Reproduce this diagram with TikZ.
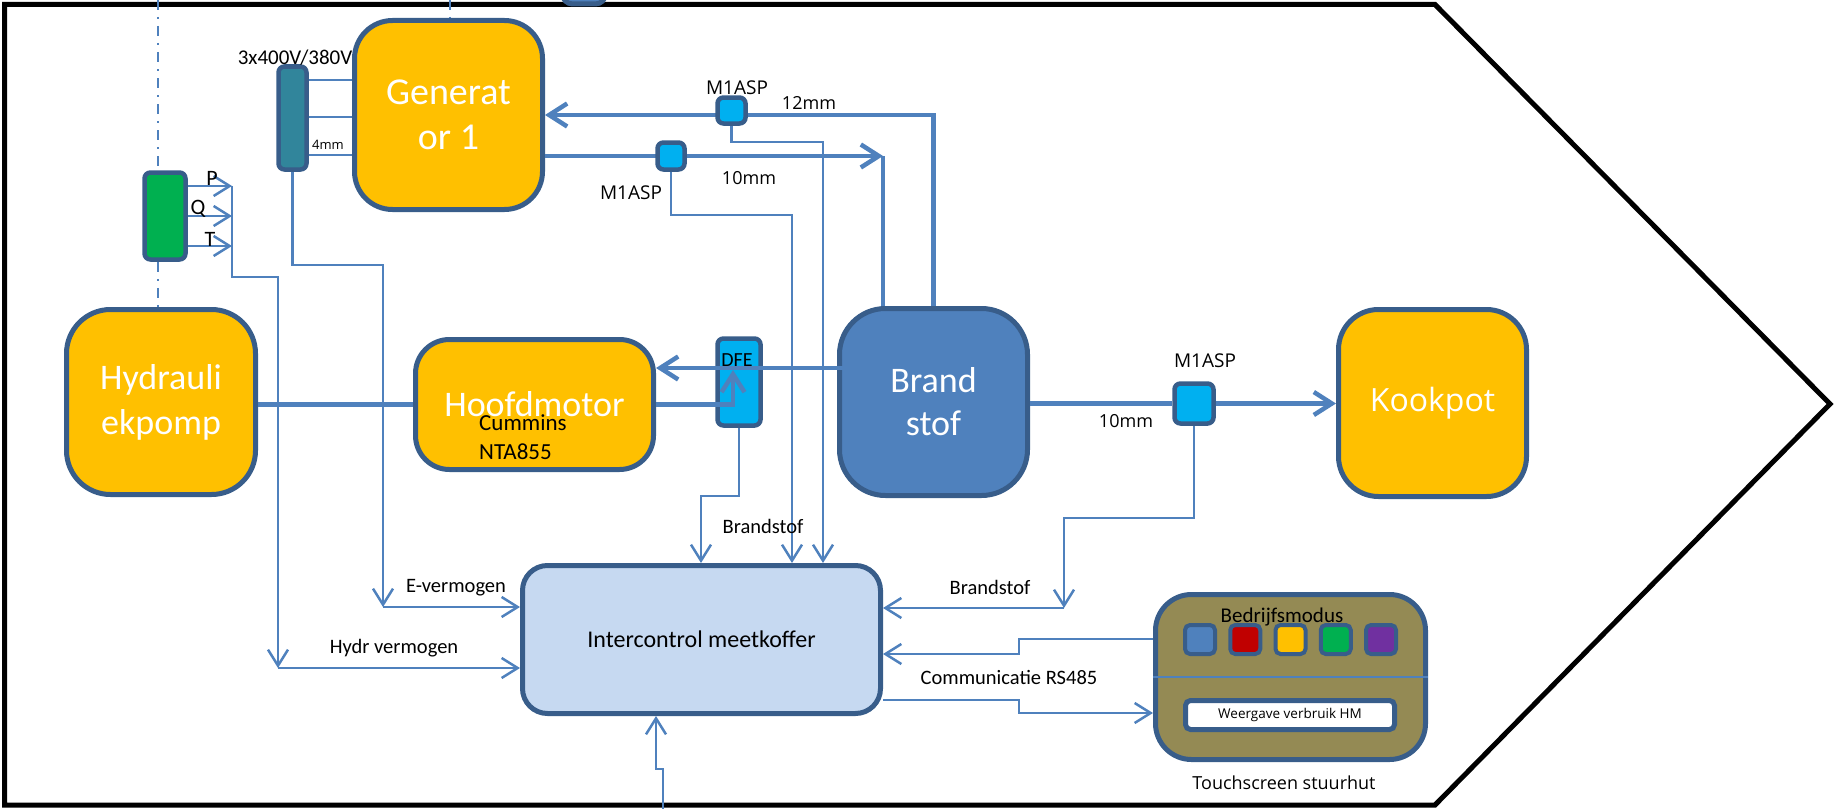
\documentclass[tikz,border=0pt]{standalone}
\usepackage{fontspec}
\setmainfont{Carlito}
\newfontfamily\tahoma{Open Sans}
\usetikzlibrary{arrows.meta}
\definecolor{offOrange}{RGB}{255,192,0}
\definecolor{offBlue}{RGB}{79,129,189}
\definecolor{offEdge}{RGB}{56,93,138}
\definecolor{offCyan}{RGB}{0,176,240}
\definecolor{offTeal}{RGB}{49,133,155}
\definecolor{offGreen}{RGB}{0,176,80}
\definecolor{offRed}{RGB}{192,0,0}
\definecolor{offPurple}{RGB}{112,48,160}
\definecolor{offLight}{RGB}{198,217,241}
\definecolor{offOlive}{RGB}{148,138,84}
\newcommand{\fsz}[2]{\fontsize{#1}{#2}\selectfont}

\tikzset{
  block/.style={draw=offEdge, line width=5pt, fill=offOrange, rounded corners=38pt,
    inner sep=0pt, align=center, text=white, font=\fsz{36}{45}},
  meter/.style={draw=offEdge, line width=4.5pt, fill=offCyan, rounded corners=6pt, inner sep=0pt},
  modebox/.style={draw=offEdge, line width=4pt, rounded corners=5pt, inner sep=0pt,
    minimum width=30pt, minimum height=29pt},
  pipe/.style={draw=offBlue, line width=4.5pt, >={Straight Barb[length=18pt,width=23pt]}},
  sig/.style={draw=offBlue, line width=2.5pt, >={Straight Barb[length=16pt,width=20pt]}},
  lbl/.style={inner sep=0pt, font=\fsz{20.5}{25}},
  smalllbl/.style={inner sep=0pt, font=\tahoma\fsz{18}{22}},
  dashdotline/.style={draw=offBlue, line width=2pt, dash pattern=on 10pt off 7pt on 2pt off 7pt},
}

\begin{document}
\begin{tikzpicture}[x=1pt, y=-1pt]
  \useasboundingbox (0,0) rectangle (1835,808);

  % hull of the ship
  \draw[black, line width=5pt, line join=miter]
    (4.5,4.5) -- (1435,4.5) -- (1830,404) -- (1435,805) -- (4.5,805) -- cycle;

  % unit cut off by the top edge
  \node[block, fill=offBlue, rounded corners=10pt, minimum width=43pt, minimum height=30pt] (topunit) at (584,-11) {};

  % main units
  \node[block, minimum width=188pt, minimum height=189pt, font=\fsz{38}{45}] (gen) at (448.5,115) {Generat\\or 1};
  \node[block, minimum width=189pt, minimum height=185pt, rounded corners=44pt] (pump) at (161,402) {Hydrauli\\ekpomp};
  \node[block, minimum width=238pt, minimum height=130pt, rounded corners=34pt] (motor) at (534.5,404.5) {Hoofdmotor};
  \node[block, fill=offBlue, minimum width=188pt, minimum height=187pt, rounded corners=46pt, font=\fsz{36}{43}] (brand) at (933.5,402) {Brand\\stof};
  \node[block, minimum width=188pt, minimum height=187pt, rounded corners=40pt, font=\tahoma\fsz{32}{38}] (kook) at (1432.5,403) {Kookpot};
  \node[block, fill=offLight, text=black, minimum width=358pt, minimum height=148pt, rounded corners=25pt, font=\fsz{24}{29}] (meet) at (701.5,639.5) {Intercontrol meetkoffer};
  \node[block, fill=offOlive, minimum width=270pt, minimum height=165pt, rounded corners=36pt] (touch) at (1290.5,677) {};

  % sensors
  \node[meter, fill=offGreen, minimum width=41pt, minimum height=87pt] (green) at (165,216) {};
  \node[meter, fill=offTeal, minimum width=28pt, minimum height=103pt] (teal) at (292.5,118) {};
  \node[meter, minimum width=43pt, minimum height=87pt] (dfe) at (739,382) {};

  % dash-dotted links
  \draw[dashdotline] (158,0) -- (158,0 |- green.north);
  \draw[dashdotline] (158,0 |- green.south) -- (158,0 |- pump.north);
  \draw[dashdotline] (450,0) -- (450,0 |- gen.north);

  % fuel pipes
  \draw[pipe,->] (brand.north) |- (gen.east);
  \coordinate (retcorner) at (883,156);
  \draw[pipe,->] (gen.east |- retcorner) -- (retcorner);
  \draw[pipe] (retcorner) -- (retcorner |- brand.north);
  \coordinate (fuelin) at (868,368);
  \draw[pipe,->] (fuelin) -- (motor.east |- fuelin);
  \draw[pipe,->] (motor.east) -| (733,370);
  \draw[pipe] (pump.east |- motor.west) -- (motor.west);

  % flow meters on the pipes
  \node[meter, minimum width=28pt, minimum height=26pt] (asp1) at (731.5,110.5) {};
  \node[meter, minimum width=27pt, minimum height=27pt] (asp2) at (671,156) {};
  \node[meter, minimum width=39pt, minimum height=40pt] (asp3) at (1194,403.5) {};
  \draw[pipe] (brand.east |- asp3) -- (asp3.west);
  \draw[pipe,->] (asp3.east) -- (kook.west |- asp3);

  % generator cables
  \foreach \yy in {80,117,155}
    \draw[sig, line width=2pt] (teal.east |- 0,\yy) -- (gen.west |- 0,\yy);

  % signals from the sensors
  \foreach \yy in {186,216,246}
    \draw[sig,->] (green.east |- 0,\yy) -- (232,\yy);
  \coordinate (hydcorner) at (278,668);
  \draw[sig,->] (232,186) |- (278,277) -- (hydcorner);
  \draw[sig,->] (hydcorner) -- (meet.west |- hydcorner);

  \coordinate (ecorner) at (383,607);
  \draw[sig,->] (teal.south) |- (383,265) -- (ecorner);
  \draw[sig,->] (ecorner) -- (meet.west |- ecorner);

  \coordinate (dfebend) at (701,496);
  \draw[sig,->] (dfe.south) |- (dfebend) -- (dfebend |- meet.north);
  \coordinate (aspbend2) at (792,215);
  \draw[sig,->] (asp2.south) |- (aspbend2) -- (aspbend2 |- meet.north);
  \coordinate (aspbend1) at (823,142);
  \draw[sig,->] (asp1.south) |- (aspbend1) -- (aspbend1 |- meet.north);

  \coordinate (kookbend) at (1064,518);
  \coordinate (kookcorner) at (1064,608);
  \draw[sig,->] (asp3.south) |- (kookbend) -- (kookcorner);
  \draw[sig,->] (kookcorner) -- (meet.east |- kookcorner);

  % RS485 link with the wheelhouse
  \draw[sig,->] (touch.west |- 0,639) -| (1019,654) -- (meet.east |- 0,654);
  \draw[sig,->] (meet.east |- 0,700) -| (1019,713) -- (touch.west |- 0,713);

  % feed from below
  \coordinate (feedbend) at (656,769);
  \draw[sig,->] (663,810) |- (feedbend) -- (feedbend |- meet.south);

  % touchscreen contents
  \draw[offBlue, line width=2pt] (touch.west) -- (touch.east);
  \foreach \col [count=\i] in {offBlue,offRed,offOrange,offGreen,offPurple}
    \node[modebox, fill=\col] (mode\i) at ({1200+45.25*(\i-1)},639.5) {};
  \node[draw=offEdge, line width=5pt, fill=white, rounded corners=5pt, minimum width=209pt,
    minimum height=29pt, inner sep=0pt, font=\tahoma\fsz{13.5}{16}] (disp) at (1290,715) {Weergave verbruik HM};

  % labels
  \node[lbl, font=\fsz{21}{25}] (voltage) at (295,58) {3x400V/380V};
  \node[smalllbl, font=\tahoma\fsz{13}{16}] (cable) at (328,145) {4mm};
  \node[lbl, font=\fsz{22}{26}] (lblP) at (212,178) {P};
  \node[lbl, font=\fsz{22}{26}] (lblQ) at (198,209) {Q};
  \node[lbl, font=\fsz{22}{26}] (lblT) at (210,239) {T};
  \node[smalllbl, font=\tahoma\fsz{19}{22}] (lblasp1) at (737,88) {M1ASP};
  \node[smalllbl] (lbl12) at (809,103) {12mm};
  \node[smalllbl] (lbl10a) at (749,178) {10mm};
  \node[smalllbl, font=\tahoma\fsz{19}{22}] (lblasp2) at (631,193) {M1ASP};
  \node[lbl, font=\fsz{20}{24}] (lbldfe) at (737,360) {DFE};
  \node[lbl, align=left, anchor=west, font=\fsz{23}{29}] (cummins) at (479,437.5) {Cummins\\NTA855};
  \node[smalllbl, font=\tahoma\fsz{19}{22}] (lblasp3) at (1205,361) {M1ASP};
  \node[smalllbl] (lbl10b) at (1126,421) {10mm};
  \node[lbl] (lblfuel1) at (763,526) {Brandstof};
  \node[lbl] (lblfuel2) at (990,587) {Brandstof};
  \node[lbl] (lblepow) at (456,588) {E-vermogen};
  \node[lbl] (lblhpow) at (394,648) {Hydr vermogen};
  \node[lbl] (lblcomm) at (1009,677) {Communicatie RS485};
  \node[lbl, font=\fsz{21}{25}] (lblmode) at (1282,617) {Bedrijfsmodus};
  \node[smalllbl] (lbltouch) at (1284,783) {Touchscreen stuurhut};

\end{tikzpicture}
\end{document}
